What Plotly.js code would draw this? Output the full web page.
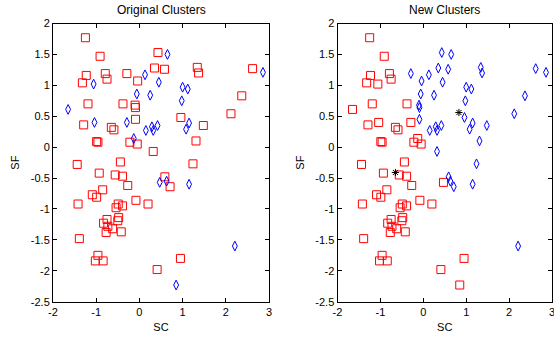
<!DOCTYPE html>
<html><head><meta charset="utf-8">
<script src="https://cdn.plot.ly/plotly-3.0.1.min.js"></script>
<style>html,body{margin:0;padding:0;background:#fff}#chart{width:554px;height:339px}</style>
</head><body><div id="chart"></div>
<script>
// SC / SF values of each observation
const sc = [-1.25,-0.91,-1.23,-1.32,-1.06,-0.79,-0.75,-1.65,-1.19,-0.38,-1.29,-1.04,-0.65,-0.59,-0.29,-0.99,-0.96,-0.13,-0.22,-0.05,
  -0.44,-1.44,-0.93,-0.56,-0.39,-0.27,-0.85,-1.09,-0.99,-1.42,-0.49,-0.39,-0.54,-0.08,0.20,0.47,-0.48,-0.75,-0.50,-0.83,
  -0.73,-0.62,-0.77,-0.42,-1.39,-0.96,-1.02,-0.84,0.41,0.95,0.85,
  -0.29,-0.04,0.13,0.35,0.43,0.65,0.58,0.45,-0.06,0.25,-0.10,-0.09,-0.09,0.15,0.29,0.32,0.42,1.00,1.12,0.98,
  0.96,1.15,1.08,1.48,1.31,1.34,1.37,2.12,2.37,2.62,2.86,0.32,1.24,0.59,0.63,0.71,1.15,2.21];
const sf = [1.77,1.47,1.16,1.04,1.02,1.19,1.10,0.61,0.70,0.70,0.36,0.40,0.32,0.28,0.40,0.09,0.08,0.14,0.08,0.05,
  -0.24,-0.28,-0.42,-0.45,-0.47,-0.62,-0.69,-0.77,-0.81,-0.92,-0.92,-0.95,-0.98,-0.86,-0.92,-0.57,-1.14,-1.17,-1.19,-1.23,
  -1.28,-1.32,-1.38,-1.37,-1.48,-1.75,-1.84,-1.84,-1.98,-1.80,-2.23,
  1.19,1.07,1.17,1.28,1.53,1.50,1.26,1.05,0.86,0.84,0.68,0.64,0.45,0.27,0.33,0.27,0.35,0.97,0.94,0.75,
  0.48,0.39,0.29,0.35,0.10,1.29,1.20,0.54,0.83,1.27,1.21,-0.07,-0.27,-0.48,-0.55,-0.64,-0.60,-1.60];
// cluster labels (1 = red squares, 2 = blue diamonds)
const originalCluster = [1,1,1,1,2,1,1,2,1,1,1,2,1,1,2,1,1,2,1,1,
  1,1,1,1,1,1,1,1,1,1,1,1,1,1,1,2,1,1,1,1,
  1,1,1,1,1,1,1,1,1,1,2,
  1,1,2,1,1,2,1,2,2,2,1,1,1,2,2,2,2,2,2,2,
  1,2,2,1,1,1,1,1,1,1,2,1,1,1,2,1,2,2];
const newCluster = [1,1,1,1,1,1,1,1,1,1,1,1,1,1,1,1,1,1,1,1,
  1,1,1,1,1,1,1,1,1,1,1,1,1,1,1,1,1,1,1,1,
  1,1,1,1,1,1,1,1,1,1,1,
  2,2,2,2,2,2,2,2,2,2,2,2,2,2,2,2,2,2,2,2,
  2,2,2,2,2,2,2,2,2,2,2,2,2,2,2,2,2,2];
const centroidSC = [0.83, -0.65];
const centroidSF = [0.56, -0.41];
const panelTitles = ['Original Clusters', 'New Clusters'];
const xTickVals = [-2,-1,0,1,2,3];
const xTickText = ['-2','-1','0','1','2','3'];
const yTickVals = [-2.5,-2,-1.5,-1,-0.5,0,0.5,1,1.5,2];
const yTickText = ['-2.5','-2','-1.5','-1','-0.5','0','0.5','1','1.5','2'];

function pick(arr, labels, k){ return arr.filter((v,i)=>labels[i]===k); }

const sqStyle = {symbol:'square-open', size:8, color:'#ff0000', line:{width:1, color:'#ff0000'}};
const dmStyle = {symbol:'diamond-tall-open', size:7, color:'#0000ff', line:{width:1, color:'#0000ff'}};

const traces = [];
[[originalCluster,'x','y'],[newCluster,'x2','y2']].forEach(([lab,xa,ya])=>{
  traces.push({type:'scatter', mode:'markers', x:pick(sc,lab,1), y:pick(sf,lab,1), xaxis:xa, yaxis:ya, marker:sqStyle, hoverinfo:'x+y'});
  traces.push({type:'scatter', mode:'markers', x:pick(sc,lab,2), y:pick(sf,lab,2), xaxis:xa, yaxis:ya, marker:dmStyle, hoverinfo:'x+y'});
});
traces.push({type:'scatter', mode:'markers', x:centroidSC, y:centroidSF, xaxis:'x2', yaxis:'y2',
  marker:{symbol:'asterisk-open', size:6, color:'#000', line:{width:1, color:'#000'}}});

const W = 554, H = 339;
const fnt = {family:'"Liberation Sans", Arial, sans-serif', size:11, color:'#000'};
const titleFnt = {family:'"Liberation Sans", Arial, sans-serif', size:12, color:'#000'};
function xax(d0, d1){
  return {domain:[d0/W, d1/W], range:[-2,3], tickvals:xTickVals, ticktext:xTickText, ticks:'inside', ticklen:4,
    tickcolor:'#000', showline:true, mirror:'ticks', linecolor:'#000', linewidth:1, showgrid:false, zeroline:false,
    tickfont:fnt, title:{text:'SC', font:fnt, standoff:6}, automargin:false, fixedrange:true, ticklabeloverflow:'allow'};
}
function yax(){
  return {domain:[(H-301.7)/H, (H-23.5)/H], range:[-2.5,2], tickvals:yTickVals, ticktext:yTickText, ticks:'inside', ticklen:4,
    tickcolor:'#000', showline:true, mirror:'ticks', linecolor:'#000', linewidth:1, showgrid:false, zeroline:false,
    tickfont:fnt, title:{text:'SF', font:fnt, standoff:8}, automargin:false, fixedrange:true, ticklabeloverflow:'allow'};
}
const x1 = xax(53, 269), x2 = xax(337.5, 552);
const y1 = yax(), y2 = yax();
x2.anchor = 'y2'; y2.anchor = 'x2'; x1.anchor='y'; y1.anchor='x';

const layout = {
  width:W, height:H, margin:{l:0, r:0, t:0, b:0}, showlegend:false,
  paper_bgcolor:'#fff', plot_bgcolor:'#fff', font:fnt,
  xaxis:x1, yaxis:y1, xaxis2:x2, yaxis2:y2,
  annotations:[
    {text:panelTitles[0], x:(53+269)/2/W, y:(H-10)/H, xref:'paper', yref:'paper', showarrow:false, font:titleFnt, xanchor:'center', yanchor:'middle'},
    {text:panelTitles[1], x:(337.5+552)/2/W, y:(H-10)/H, xref:'paper', yref:'paper', showarrow:false, font:titleFnt, xanchor:'center', yanchor:'middle'}
  ]
};
Plotly.newPlot('chart', traces, layout, {displayModeBar:false, staticPlot:true});
</script></body></html>
